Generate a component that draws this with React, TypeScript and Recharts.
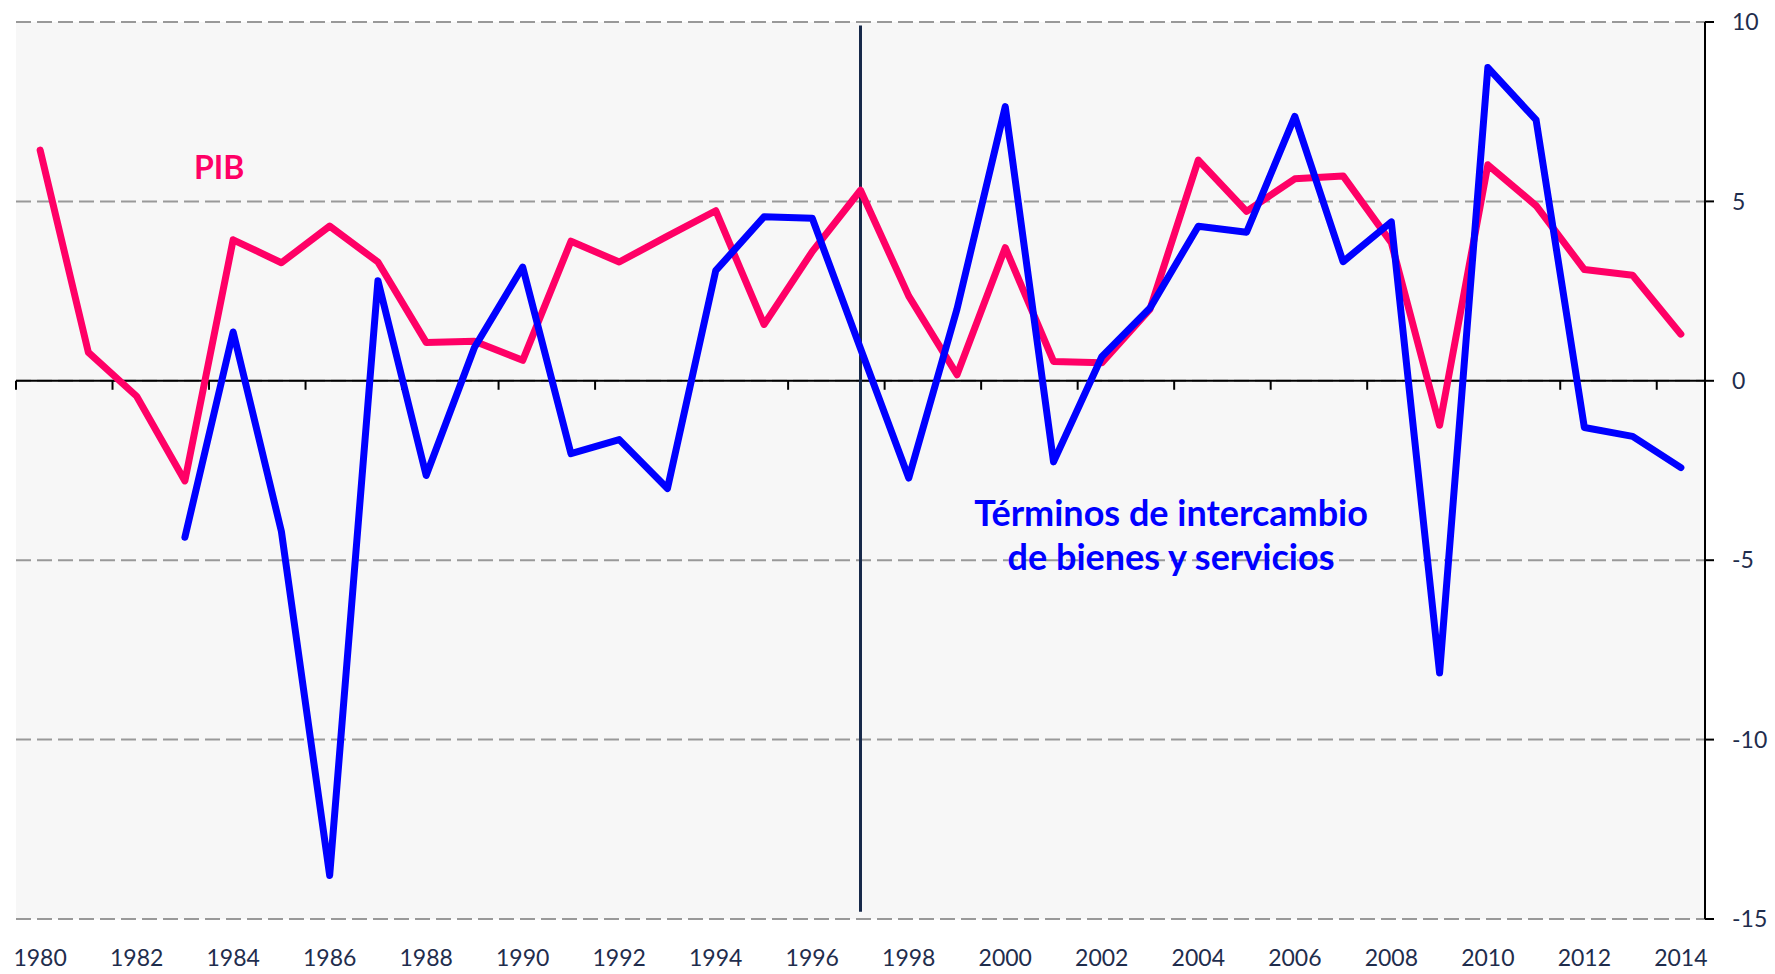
import React from 'react';
import { LineChart, Line, XAxis, YAxis, CartesianGrid, ReferenceLine, ReferenceDot } from 'recharts';

const years = [
  '1980','1981','1982','1983','1984','1985','1986','1987','1988','1989',
  '1990','1991','1992','1993','1994','1995','1996','1997','1998','1999',
  '2000','2001','2002','2003','2004','2005','2006','2007','2008','2009',
  '2010','2011','2012','2013','2014',
];

const pib = [
  6.43, 0.79, -0.43, -2.79, 3.93, 3.29, 4.31, 3.31, 1.07, 1.1,
  0.57, 3.89, 3.31, 4.03, 4.74, 1.57, 3.6, 5.31, 2.36, 0.17,
  3.71, 0.54, 0.5, 2.0, 6.15, 4.72, 5.63, 5.71, 3.85, -1.24,
  6.02, 4.88, 3.1, 2.94, 1.3,
];

const terminos = [
  null, null, null, -4.36, 1.36, -4.2, -13.79, 2.79, -2.64, 0.93,
  3.17, -2.03, -1.64, -3.0, 3.07, 4.57, 4.53, 0.9, -2.71, 2.0,
  7.64, -2.26, 0.67, 2.03, 4.31, 4.14, 7.37, 3.32, 4.43, -8.14,
  8.73, 7.27, -1.3, -1.55, -2.42,
];

const yTicks = [-15, -10, -5, 0, 5, 10];

const data = years.map((year, i) => ({ year, pib: pib[i], tot: terminos[i] }));
const zeroTickYears = years.filter((_, i) => i % 2 === 1);

const FONT = 'Lato, "Open Sans", sans-serif';
const NAVY = '#1F2D4D';
const PINK = '#FF0066';
const BLUE = '#0000FF';

const XTick = (props: any) => {
  const { x, y, payload } = props;
  return (
    <text x={x} y={y + 38} textAnchor="middle" dominantBaseline="central" fill={NAVY} fontSize={23} fontFamily={FONT}>
      {payload.value}
    </text>
  );
};

const PibLabel = (props: any) => {
  const { viewBox } = props;
  return (
    <text x={viewBox.x - 14} y={viewBox.y} textAnchor="middle" dominantBaseline="central" fill={PINK} fontSize={32} fontWeight={700} fontFamily={FONT}>
      PIB
    </text>
  );
};

const TotLabel = (props: any) => {
  const { viewBox } = props;
  const cx = viewBox.x + 21;
  return (
    <text textAnchor="middle" dominantBaseline="central" fill={BLUE} fontSize={36} fontWeight={700} fontFamily={FONT}>
      <tspan x={cx} y={viewBox.y - 22}>Términos de intercambio</tspan>
      <tspan x={cx} y={viewBox.y + 22}>de bienes y servicios</tspan>
    </text>
  );
};

export default function App() {
  return (
    <div style={{ position: 'absolute', left: 0, top: 0, width: 1775, height: 974, background: '#fff', fontFamily: FONT }}>
      <LineChart width={1775} height={974} data={data} margin={{ top: 22, right: 0, bottom: 0, left: 16 }}>
        <CartesianGrid vertical={false} fill="#F7F7F7" stroke="#999999" strokeWidth={2} strokeDasharray="15 6" />
        <XAxis
          dataKey="year"
          type="category"
          scale="band"
          interval={1}
          axisLine={false}
          tickLine={false}
          tickSize={0}
          tickMargin={0}
          height={55}
          tick={<XTick />}
        />
        <YAxis
          orientation="right"
          domain={[-15, 10]}
          ticks={yTicks}
          width={70}
          allowDataOverflow
          axisLine={{ stroke: '#000', strokeWidth: 2 }}
          tickLine={{ stroke: '#000', strokeWidth: 2 }}
          tickSize={9}
          tickMargin={18}
          tick={{ fill: NAVY, fontSize: 23, fontFamily: FONT }}
        />
        <ReferenceLine y={0} stroke="#000" strokeWidth={2} />
        <ReferenceLine
          segment={[{ x: years[0], y: 0 }, { x: years[0], y: -0.25 }]}
          position="start"
          stroke="#000"
          strokeWidth={2}
        />
        {zeroTickYears.map((yr) => (
          <ReferenceLine
            key={yr}
            segment={[{ x: yr, y: 0 }, { x: yr, y: -0.25 }]}
            position="end"
            stroke="#000"
            strokeWidth={2}
          />
        ))}
        <ReferenceLine
          segment={[{ x: '1997', y: 9.9 }, { x: '1997', y: -14.8 }]}
          position="middle"
          stroke="#17294A"
          strokeWidth={3}
        />
        <Line
          type="linear"
          dataKey="pib"
          stroke={PINK}
          strokeWidth={7}
          dot={false}
          activeDot={false}
          strokeLinejoin="round"
          strokeLinecap="round"
          isAnimationActive={false}
        />
        <Line
          type="linear"
          dataKey="tot"
          stroke={BLUE}
          strokeWidth={7}
          dot={false}
          activeDot={false}
          strokeLinejoin="round"
          strokeLinecap="round"
          connectNulls={false}
          isAnimationActive={false}
        />
        <ReferenceDot x="1984" y={5.98} r={0} fill="none" stroke="none" label={<PibLabel />} />
        <ReferenceDot x="2003" y={-4.28} r={0} fill="none" stroke="none" label={<TotLabel />} />
      </LineChart>
    </div>
  );
}
